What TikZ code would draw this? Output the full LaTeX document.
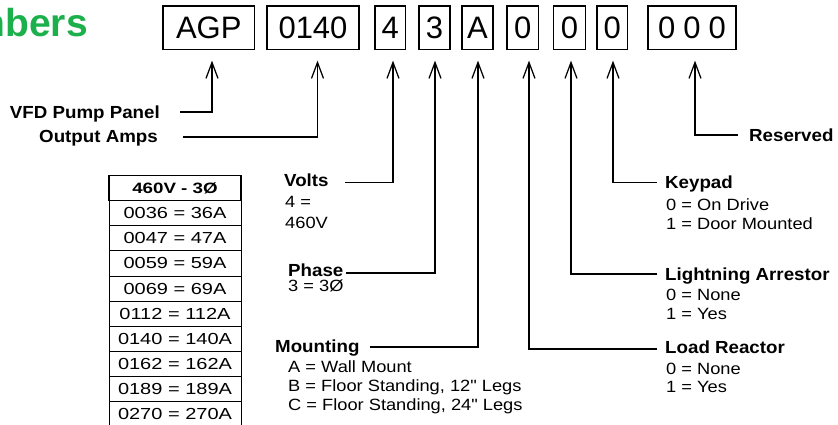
\documentclass[tikz,border=0pt]{standalone}
\usepackage{fontspec}
\setmainfont{Liberation Sans}
\newfontfamily\descfont[FakeStretch=1.12]{Liberation Sans}
\newfontfamily\labfont[FakeStretch=1.07]{Liberation Sans}
\newfontfamily\tabfont[FakeStretch=1.25]{Liberation Sans}
\usetikzlibrary{arrows.meta}
\definecolor{titlegreen}{RGB}{28,176,76}
\begin{document}
\begin{tikzpicture}[x=1pt,y=-1pt,
  box/.style={draw, line width=1.3pt, minimum height=43.5pt, inner sep=0pt,
    font=\fontsize{31}{31}\selectfont},
  lab/.style={anchor=base west, inner sep=0pt,
    font=\labfont\bfseries\fontsize{17.5}{20}\selectfont},
  desc/.style={anchor=base west, inner sep=0pt,
    font=\descfont\fontsize{16.3}{19}\selectfont},
  conn/.style={line width=1.25pt, line join=miter,
    -{Straight Barb[length=16pt,width=12pt,line width=1.25pt]}},
  cell/.style={draw, line width=0.9pt, minimum width=132pt, minimum height=25.1pt,
    inner sep=0pt, font=\tabfont\fontsize{16}{16}\selectfont},
]
\clip (0,0) rectangle (838,425);

% title
\node[anchor=base east, inner sep=0pt, text=titlegreen,
  font=\bfseries\fontsize{39}{39}\selectfont] (title) at (88,36.7) {nbers};

% code boxes
\node[box, minimum width=91.5pt] (b1) at (208.75,27.75) {AGP};
\node[box, minimum width=92pt]   (b2) at (313,27.75) {0140};
\node[box, minimum width=30.5pt] (b3) at (390.25,27.75) {4};
\node[box, minimum width=31pt]   (b4) at (434.5,27.75) {3};
\node[box, minimum width=31pt]   (b5) at (477.5,27.75) {A};
\node[box, minimum width=31.5pt] (b6) at (522.75,27.75) {0};
\node[box, minimum width=32pt]   (b7) at (569.5,27.75) {0};
\node[box, minimum width=30.5pt] (b8) at (612.25,27.75) {0};
\node[box, minimum width=88pt]   (b9) at (692,27.75) {\addfontfeature{LetterSpace=26}000};

% labels
\node[lab, anchor=base east] (vfd) at (160,118.3) {VFD Pump Panel};
\node[lab, anchor=base east] (amps) at (158,142.7) {Output Amps};
\node[lab] (res) at (749,141.7) {Reserved};
\node[lab] (volts) at (284,186) {Volts};
\node[desc] (v1) at (285,207.7) {4 =};
\node[desc] (v2) at (285,228.3) {460V};
\node[lab] (phase) at (288,276) {Phase};
\node[desc] (ph1) at (288,291.7) {3 = 3Ø};
\node[lab] (mount) at (275,352.7) {Mounting};
\node[desc] (m1) at (288,372.7) {A = Wall Mount};
\node[desc] (m2) at (288,391.5) {B = Floor Standing, 12" Legs};
\node[desc] (m3) at (288,410.5) {C = Floor Standing, 24" Legs};
\node[lab] (key) at (665,189) {Keypad};
\node[desc] (k1) at (666,210) {0 = On Drive};
\node[desc] (k2) at (666,229.3) {1 = Door Mounted};
\node[lab] (light) at (665,280) {Lightning Arrestor};
\node[desc] (l1) at (666,300.7) {0 = None};
\node[desc] (l2) at (666,319.3) {1 = Yes};
\node[lab] (load) at (665,353) {Load Reactor};
\node[desc] (lr1) at (666,374) {0 = None};
\node[desc] (lr2) at (666,392.7) {1 = Yes};

% connector start points
\coordinate (cVfd) at (180,112);
\coordinate (cAmps) at (183,137);
\coordinate (cRes) at (738,135);
\coordinate (cVolts) at (345,182.5);
\coordinate (cPhase) at (346,273);
\coordinate (cMount) at (370,347);
\coordinate (cKey) at (657,182.5);
\coordinate (cLight) at (657,274);
\coordinate (cLoad) at (657,349);

% connectors
\draw[conn] (cVfd) -| ([xshift=3.25pt,yshift=-10.5pt]b1.south);
\draw[conn] (cAmps) -| ([xshift=4.5pt,yshift=-10.5pt]b2.south);
\draw[conn] (cVolts) -| ([xshift=2.75pt,yshift=-10.5pt]b3.south);
\draw[conn] (cPhase) -| ([xshift=0.5pt,yshift=-10.5pt]b4.south);
\draw[conn] (cMount) -| ([xshift=0.5pt,yshift=-10.5pt]b5.south);
\draw[conn] (cLoad) -| ([xshift=6.25pt,yshift=-10.5pt]b6.south);
\draw[conn] (cLight) -| ([xshift=1.5pt,yshift=-10.5pt]b7.south);
\draw[conn] (cKey) -| ([xshift=0.75pt,yshift=-10.5pt]b8.south);
\draw[conn] (cRes) -| ([xshift=3pt,yshift=-10.5pt]b9.south);

% amps table
\node[cell, line width=1.3pt, font=\tabfont\bfseries\fontsize{15}{15}\selectfont]
  (t0) at (175,187.9) {460V - 3Ø};
\foreach \t [count=\i] in {0036 = 36A, 0047 = 47A, 0059 = 59A, 0069 = 69A,
  0112 = 112A, 0140 = 140A, 0162 = 162A, 0189 = 189A, 0270 = 270A}
  \node[cell] (t\i) at (175,{200.7+25.1*\i-12.55}) {\t};
\end{tikzpicture}
\end{document}
